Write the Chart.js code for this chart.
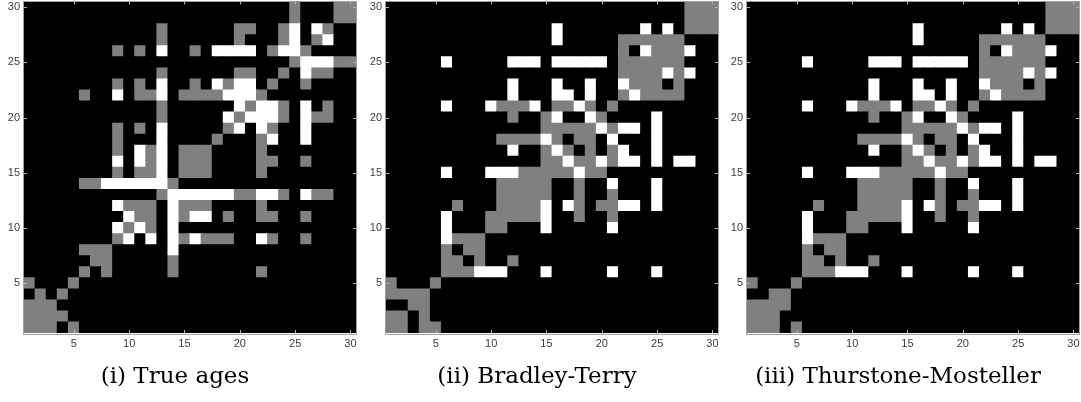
<!DOCTYPE html>
<html>
<head>
<meta charset="utf-8">
<script src="https://cdn.jsdelivr.net/npm/chart.js@4/dist/chart.umd.min.js"></script>
<style>
  html, body { margin: 0; padding: 0; background: #fff; width: 1081px; height: 402px; overflow: hidden; }
  canvas { position: absolute; top: 0; }
</style>
</head>
<body>
<canvas id="p1" width="366" height="402" style="left:-6px"></canvas>
<canvas id="p2" width="366" height="402" style="left:356px"></canvas>
<canvas id="p3" width="366" height="402" style="left:717px"></canvas>
<script>
// item index 1..30 on both axes
const items = [1,2,3,4,5,6,7,8,9,10,11,12,13,14,15,16,17,18,19,20,21,22,23,24,25,26,27,28,29,30];
const xTicks = [5, 10, 15, 20, 25, 30];
const yTicks = [5, 10, 15, 20, 25, 30];
const captions = ['(i) True ages', '(ii) Bradley-Terry', '(iii) Thurstone-Mosteller'];

// rows listed top (item 30) to bottom (item 1); 0 = black, 1 = gray, 2 = white
const trueAges = [
  '00000 00000 00000 00000 00001 00011',
  '00000 00000 00000 00000 00001 00011',
  '00000 00000 00100 00001 10012 02100',
  '00000 00000 00100 00001 00012 01200',
  '00000 00010 10200 10222 20122 10000',
  '00000 00000 00000 00000 00001 22211',
  '00000 00000 00100 00001 10010 21100',
  '00000 00010 10200 10212 20100 10000',
  '00000 10020 11201 11122 21000 00000',
  '00000 00000 00100 00002 12210 20100',
  '00000 00000 00100 00021 22210 21100',
  '00000 00010 10200 00012 02100 20000',
  '00000 00010 00200 00100 01200 20000',
  '00000 00010 21201 11000 01000 00000',
  '00000 00020 21201 11000 01100 10000',
  '00000 00010 11201 11000 01000 00000',
  '00000 11222 22210 00000 00000 00000',
  '00000 00000 00122 22221 12210 21100',
  '00000 00021 11021 11000 01000 00000',
  '00000 00002 11021 22010 01100 10000',
  '00000 00021 21020 00000 00000 00000',
  '00000 00012 02021 21110 02100 10000',
  '00000 11100 00020 00000 00000 00000',
  '00000 01100 00010 00000 00000 00000',
  '00000 10100 00010 00000 01000 00000',
  '10001 00000 00000 00000 00000 00000',
  '01010 00000 00000 00000 00000 00000',
  '11100 00000 00000 00000 00000 00000',
  '11110 00000 00000 00000 00000 00000',
  '11101 00000 00000 00000 00000 00000'
];

const bradleyTerry = [
  '00000 00000 00000 00000 00000 00111',
  '00000 00000 00000 00000 00000 00111',
  '00000 00000 00000 20000 00020 20111',
  '00000 00000 00000 20000 01111 11000',
  '00000 00000 00000 00000 01021 11200',
  '00000 20000 02220 22222 01111 11000',
  '00000 00000 00000 00000 01111 21200',
  '00000 00000 02000 20020 02111 01000',
  '00000 00000 02000 22020 01211 11000',
  '00000 20002 11120 11210 10000 00000',
  '00000 00000 01001 20021 00002 00000',
  '00000 00000 00001 11112 12202 00000',
  '00000 00000 11112 10110 20002 00000',
  '00000 00000 02001 21010 12002 00000',
  '00000 00000 00001 12112 12202 02200',
  '00000 20002 22111 11211 00000 00000',
  '00000 00000 11111 00100 20002 00000',
  '00000 00000 11111 00100 10002 00000',
  '00000 01000 11112 02101 12202 00000',
  '00000 20001 11112 00100 10000 00000',
  '00000 20001 10002 00000 20000 00000',
  '00000 21110 00000 00000 00000 00000',
  '00000 10110 00000 00000 00000 00000',
  '00000 11010 01000 00000 00000 00000',
  '00000 11122 20002 00000 20002 00000',
  '10001 00000 00000 00000 00000 00000',
  '11110 00000 00000 00000 00000 00000',
  '00110 00000 00000 00000 00000 00000',
  '11010 00000 00000 00000 00000 00000',
  '11011 00000 00000 00000 00000 00000'
];

const thurstoneMosteller = [
  '00000 00000 00000 00000 00000 00111',
  '00000 00000 00000 00000 00000 00111',
  '00000 00000 00000 20000 00020 20111',
  '00000 00000 00000 20000 01111 11000',
  '00000 00000 00000 00000 01021 11200',
  '00000 20000 02220 22222 01111 11000',
  '00000 00000 00000 00000 01111 21200',
  '00000 00000 02000 20020 02111 01000',
  '00000 00000 02000 22020 01211 11000',
  '00000 20002 11120 11210 10000 00000',
  '00000 00000 01001 20021 00002 00000',
  '00000 00000 00001 11112 12202 00000',
  '00000 00000 11112 10110 20002 00000',
  '00000 00000 02001 21010 12002 00000',
  '00000 00000 00001 12112 12202 02200',
  '00000 20002 22111 11211 00000 00000',
  '00000 00000 11111 00100 20002 00000',
  '00000 00000 11111 00100 10002 00000',
  '00000 01000 11112 02101 12202 00000',
  '00000 20001 11112 00100 10000 00000',
  '00000 20001 10002 00000 20000 00000',
  '00000 21110 00000 00000 00000 00000',
  '00000 10110 00000 00000 00000 00000',
  '00000 11010 01000 00000 00000 00000',
  '00000 11122 20002 00000 20002 00000',
  '10001 00000 00000 00000 00000 00000',
  '00110 00000 00000 00000 00000 00000',
  '11110 00000 00000 00000 00000 00000',
  '11100 00000 00000 00000 00000 00000',
  '11101 00000 00000 00000 00000 00000'
];

const shades = ['#000000', '#808080', '#ffffff'];

// value of cell (row item, column index)
function cellAt(rows, item, col) {
  const line = rows[rows.length - item].replace(/ /g, '');
  return +line[col];
}

// black image background, then a MATLAB-like box with small inward ticks
const boxPlugin = {
  id: 'box',
  beforeDatasetsDraw(chart) {
    const { ctx, chartArea: a } = chart;
    ctx.save();
    ctx.fillStyle = shades[0];
    ctx.fillRect(a.left, a.top, a.width, a.height);
    ctx.restore();
  },
  afterDatasetsDraw(chart) {
    const { ctx, chartArea: a, scales: { x, y } } = chart;
    ctx.save();
    ctx.strokeStyle = '#b4b4b4';
    ctx.lineWidth = 1;
    ctx.beginPath();
    xTicks.forEach(v => {
      const px = Math.round(x.getPixelForValue(v - 1)) + 0.5;
      ctx.moveTo(px, a.bottom); ctx.lineTo(px, a.bottom - 3);
      ctx.moveTo(px, a.top); ctx.lineTo(px, a.top + 3);
    });
    yTicks.forEach(v => {
      const py = Math.round(y.getPixelForValue(v)) + 0.5;
      ctx.moveTo(a.left, py); ctx.lineTo(a.left + 3, py);
      ctx.moveTo(a.right, py); ctx.lineTo(a.right - 3, py);
    });
    ctx.stroke();
    ctx.strokeStyle = '#a0a0a0';
    ctx.strokeRect(Math.round(a.left) - 0.5, Math.round(a.top) - 0.5,
                   Math.round(a.width) + 1, Math.round(a.height) + 1);
    ctx.restore();
  }
};

function drawPanel(id, rows, caption) {
  const datasets = items.map(item => ({
    data: items.map(() => [item - 0.5, item + 0.5]),
    backgroundColor: c => shades[cellAt(rows, item, c.dataIndex)],
    borderWidth: 0,
    inflateAmount: 0.4,
    grouped: false,
    barPercentage: 1,
    categoryPercentage: 1
  }));

  new Chart(document.getElementById(id), {
    type: 'bar',
    data: { labels: items.map(String), datasets },
    options: {
      responsive: false,
      animation: false,
      events: [],
      layout: { padding: { left: 0, right: 4, top: 1.5, bottom: 0 } },
      plugins: {
        legend: { display: false },
        tooltip: { enabled: false },
        title: {
          display: true,
          position: 'bottom',
          text: caption,
          color: '#000',
          font: { family: 'DejaVu Serif', size: 23, weight: 'normal' },
          padding: { top: 0, bottom: 11.2 }
        }
      },
      scales: {
        x: {
          grid: { display: false, drawTicks: false },
          border: { display: false },
          afterFit: s => { s.height = 30.2; s.paddingLeft = 0; s.paddingRight = 0; },
          ticks: {
            autoSkip: false,
            maxRotation: 0,
            padding: 4,
            color: '#3c3c3c',
            font: { family: 'Liberation Sans', size: 11 },
            callback: (v, i) => xTicks.includes(items[i]) ? String(items[i]) : ''
          }
        },
        y: {
          min: 0.5,
          max: 30.5,
          grid: { display: false, drawTicks: false },
          border: { display: false },
          afterFit: s => { s.width = 30; s.paddingTop = 0; s.paddingBottom = 0; },
          afterBuildTicks: s => { s.ticks = yTicks.map(v => ({ value: v })); },
          ticks: {
            padding: 4,
            color: '#3c3c3c',
            font: { family: 'Liberation Sans', size: 11 }
          }
        }
      }
    },
    plugins: [boxPlugin]
  });
}

drawPanel('p1', trueAges, captions[0]);
drawPanel('p2', bradleyTerry, captions[1]);
drawPanel('p3', thurstoneMosteller, captions[2]);
</script>
</body>
</html>
